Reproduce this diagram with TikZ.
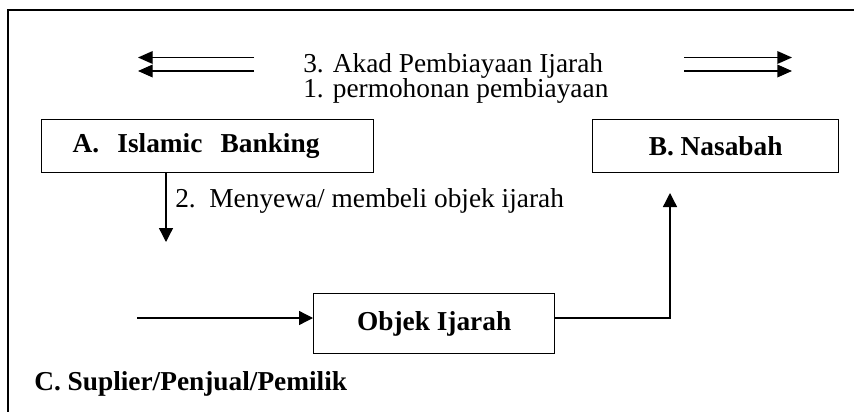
\documentclass[tikz,border=0pt]{standalone}
\usepackage{fontspec}
\setmainfont{Liberation Serif}
\usetikzlibrary{arrows.meta}
\begin{document}
\begin{tikzpicture}[x=0.75pt,y=-0.75pt,
  box/.style={draw,line width=1pt,inner sep=0pt,font=\bfseries\fontsize{20.5}{24}\selectfont},
  txt/.style={inner sep=0pt,anchor=base west,font=\fontsize{20.5}{24}\selectfont},
  arr/.style={line width=1pt,-{Triangle[length=10.5pt,width=10.5pt]}},
  dbl/.style={line width=1pt,-{Triangle[length=11pt,width=9.5pt]}}]
\useasboundingbox (0,0) rectangle (854,411);
\clip (0,0) rectangle (854,411);
% outer frame, running past the page edges on the right and bottom
\draw[line width=1.5pt] (7.5,10) rectangle (880,440);

% parties
\node[box,anchor=north west,text width=202.5pt,inner xsep=23.25pt,
      minimum height=39.75pt,align=left] (A) at (41,119) {A.~~Islamic~~Banking};
\node[box,anchor=north west,minimum width=184.5pt,minimum height=39.75pt] (B) at (592,119) {B. Nasabah};
\node[box,anchor=north west,minimum width=180.75pt,minimum height=45pt] (obj) at (313,293) {Objek Ijarah};
\node[inner sep=0pt,anchor=base west,font=\bfseries\fontsize{20.5}{24}\selectfont] (C) at (34,390) {C. Suplier/Penjual/Pemilik};

% flow labels
\node[txt] (t3) at (303,72) {3. Akad Pembiayaan Ijarah};
\node[txt] (t1) at (303,97) {1. permohonan pembiayaan};
\node[txt] (t2) at (175,207) {2.~~Menyewa/ membeli objek ijarah};

% free ends of the connectors
\coordinate (la) at (254,57.5);
\coordinate (lb) at (254,71);
\coordinate (ra) at (684,57.5);
\coordinate (rb) at (684,71);
\coordinate (down) at (166,242);
\coordinate (in) at (137,318);
\coordinate (up) at (670,193);

% double arrows beside the contract labels
\draw[dbl] (la) -- +(-116,0);
\draw[dbl] (lb) -- +(-116,0);
\draw[dbl] (ra) -- +(108,0);
\draw[dbl] (rb) -- +(108,0);

% bank buys or rents the object
\draw[arr] (A.south -| down) -- (down);
% supplier delivers the object
\draw[arr] (in) -- (in -| obj.west);
% object passes to the customer
\draw[arr] (in -| obj.east) -| (up);
\end{tikzpicture}
\end{document}
